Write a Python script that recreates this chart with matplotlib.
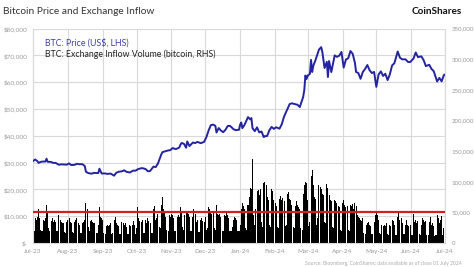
import matplotlib
matplotlib.use("Agg")
import matplotlib.pyplot as plt
import matplotlib.dates as mdates
import numpy as np
import pandas as pd
from matplotlib.ticker import FuncFormatter, FixedLocator

# ---------------- data ----------------
price_dates = [
    "2023-07-01","2023-07-03","2023-07-05","2023-07-06","2023-07-08","2023-07-10","2023-07-12","2023-07-13","2023-07-14","2023-07-17","2023-07-19","2023-07-21","2023-07-24","2023-07-26","2023-07-28","2023-07-31",
    "2023-08-02","2023-08-04","2023-08-07","2023-08-09","2023-08-11","2023-08-14","2023-08-16","2023-08-17","2023-08-19","2023-08-22","2023-08-24","2023-08-28","2023-08-29","2023-08-31",
    "2023-09-03","2023-09-05","2023-09-08","2023-09-11","2023-09-13","2023-09-15","2023-09-18","2023-09-20","2023-09-22","2023-09-25","2023-09-28","2023-09-30",
    "2023-10-02","2023-10-04","2023-10-06","2023-10-09","2023-10-11","2023-10-13","2023-10-16","2023-10-18","2023-10-20","2023-10-23","2023-10-24","2023-10-26","2023-10-29","2023-10-31",
    "2023-11-02","2023-11-05","2023-11-08","2023-11-09","2023-11-10","2023-11-12","2023-11-14","2023-11-15","2023-11-17","2023-11-20","2023-11-22","2023-11-24","2023-11-27","2023-11-30",
    "2023-12-02","2023-12-04","2023-12-06","2023-12-08","2023-12-10","2023-12-11","2023-12-13","2023-12-15","2023-12-17","2023-12-19","2023-12-21","2023-12-23","2023-12-26","2023-12-28","2023-12-31",
    "2024-01-01","2024-01-02","2024-01-03","2024-01-05","2024-01-08","2024-01-10","2024-01-11","2024-01-12","2024-01-14","2024-01-16","2024-01-18","2024-01-20","2024-01-22","2024-01-23","2024-01-25","2024-01-27","2024-01-29","2024-01-31",
    "2024-02-02","2024-02-05","2024-02-07","2024-02-09","2024-02-12","2024-02-14","2024-02-16","2024-02-19","2024-02-21","2024-02-23","2024-02-26","2024-02-27","2024-02-28","2024-02-29",
    "2024-03-01","2024-03-03","2024-03-04","2024-03-05","2024-03-06","2024-03-08","2024-03-11","2024-03-13","2024-03-14","2024-03-16","2024-03-18","2024-03-19","2024-03-20","2024-03-22","2024-03-25","2024-03-27","2024-03-29","2024-03-31",
    "2024-04-02","2024-04-04","2024-04-06","2024-04-08","2024-04-10","2024-04-12","2024-04-13","2024-04-15","2024-04-17","2024-04-19","2024-04-21","2024-04-23","2024-04-25","2024-04-27","2024-04-29",
    "2024-05-01","2024-05-03","2024-05-05","2024-05-07","2024-05-09","2024-05-11","2024-05-13","2024-05-15","2024-05-17","2024-05-20","2024-05-22","2024-05-24","2024-05-27","2024-05-29","2024-05-31",
    "2024-06-03","2024-06-05","2024-06-07","2024-06-10","2024-06-12","2024-06-14","2024-06-17","2024-06-19","2024-06-21","2024-06-24","2024-06-26","2024-06-28","2024-06-30","2024-07-01",
]
price_values = [
    30590,31150,30500,29900,30290,30410,30390,31450,30310,30250,29860,29910,29180,29350,29310,29230,
    29700,29070,29180,29560,29420,29400,28700,26620,26100,25860,26160,26100,27720,25930,
    25970,25780,25900,25120,26220,26570,26760,27130,26570,26300,27020,26970,
    27500,27780,27950,27600,26760,26860,28500,28330,29670,33090,33900,34160,34530,34650,
    35420,35030,35650,36700,37320,37060,35550,37880,36160,37480,37290,37720,37250,37720,
    39460,41980,43990,44170,43720,41240,42890,41930,41360,42260,43670,43720,42520,42100,42270,
    44180,44950,42850,44160,46970,46110,46630,42850,41730,43150,41260,41620,39510,39850,39940,42120,43300,42580,
    43190,42660,44330,47150,49960,51840,52120,51780,51570,50730,54480,57060,62500,61200,
    62440,63130,68330,63800,66110,68300,72130,73080,71400,65300,67610,61930,67910,63780,69990,69460,69890,71290,
    65460,68500,68900,71630,70590,67190,63820,63420,61270,63820,64940,66410,64480,63420,63840,
    58250,62890,64030,62330,63160,60790,62940,66270,67060,71450,69120,68530,68520,67590,67490,
    68800,71080,69360,69650,68240,66010,66490,64960,64100,60280,61600,60320,62680,62850,
]

# daily exchange inflow volume (thousand bitcoin), 2023-07-01 .. 2024-06-30
inflow_jul23 = [24,20,40,38,42,55,40,22,20,38,36,40,62,52,24,20,36,40,35,38,34,20,19,45,38,35,33,32,18,17,34]
inflow_aug23 = [38,40,35,33,18,17,34,38,40,32,30,17,16,32,35,38,66,55,26,20,36,38,35,33,32,17,16,30,58,42,40]
inflow_sep23 = [38,17,15,28,30,28,30,32,15,16,38,43,32,30,28,15,15,34,32,30,33,26,14,15,30,28,30,36,30,15]
inflow_oct23 = [24,58,40,36,34,38,17,17,38,33,40,36,32,16,17,55,60,38,40,48,26,25,62,75,55,50,42,22,20,45,42]
inflow_nov23 = [48,45,40,20,20,42,45,42,58,52,26,22,45,50,52,48,42,20,19,42,56,48,35,38,18,18,38,40,36,35]
inflow_dec23 = [42,22,24,58,55,52,48,50,24,22,62,48,45,48,42,20,20,45,44,50,46,40,20,19,26,38,42,40,38,19,19]
inflow_jan24 = [30,55,65,60,55,24,22,62,75,90,88,137,45,30,55,85,87,78,88,35,26,98,100,95,75,70,30,26,88,85,70]
inflow_feb24 = [65,60,26,24,72,76,70,74,68,28,30,80,83,72,70,62,26,24,60,68,62,58,55,24,22,80,95,100,98]
inflow_mar24 = [70,28,35,110,119,95,75,72,30,40,95,92,88,80,78,35,32,97,90,78,71,68,26,24,70,68,65,60,58,22,20]
inflow_apr24 = [65,70,62,58,60,22,20,62,60,63,55,65,60,45,42,40,38,36,40,17,15,30,32,35,30,28,15,14,34,45]
inflow_may24 = [52,45,38,16,14,30,28,30,28,32,14,13,30,28,38,36,30,13,13,42,50,38,40,32,14,14,30,38,30,28,30]
inflow_jun24 = [13,13,48,35,38,32,36,14,13,30,40,38,34,36,13,13,35,42,30,32,28,12,13,45,40,32,38,44,13,24]

red_line_level = 50000          # horizontal reference on RHS (bitcoin)

left_ticks = [0,10000,20000,30000,40000,50000,60000,70000,80000]
right_ticks = [0,50000,100000,150000,200000,250000,300000,350000]
month_ticks = ["2023-07-01","2023-08-01","2023-09-01","2023-10-01","2023-11-01","2023-12-01",
               "2024-01-01","2024-02-01","2024-03-01","2024-04-01","2024-05-01","2024-06-01","2024-07-01"]
month_labels = ["Jul-23","Aug-23","Sep-23","Oct-23","Nov-23","Dec-23",
                "Jan-24","Feb-24","Mar-24","Apr-24","May-24","Jun-24","Jul-24"]

title_text = "Bitcoin Price and Exchange Inflow"
legend_price = "BTC: Price (US$, LHS)"
legend_inflow = "BTC: Exchange Inflow Volume (bitcoin, RHS)"
source_text = "Source: Bloomberg, CoinShares; data available as of close 01 July 2024"

# ---------------- plot ----------------
plt.rcParams['font.family'] = ['Lato', 'DejaVu Sans']

inflow = np.array(inflow_jul23 + inflow_aug23 + inflow_sep23 + inflow_oct23 + inflow_nov23 +
                  inflow_dec23 + inflow_jan24 + inflow_feb24 + inflow_mar24 + inflow_apr24 +
                  inflow_may24 + inflow_jun24) * 1000.0
inflow_dates = pd.date_range("2023-07-01", periods=len(inflow), freq="D")

fig = plt.figure(figsize=(4.74, 2.67), dpi=100)
ax = fig.add_axes([33/474, 1-243/267, (445-33)/474, (243-28.6)/267])
ax2 = ax.twinx()

grid_c = "#d9d9d9"
ax.set_ylim(0, 80000)
ax2.set_ylim(0, 350000)
xmin = mdates.date2num(pd.Timestamp("2023-07-01"))
xmax = mdates.date2num(pd.Timestamp("2024-07-01"))
ax.set_xlim(xmin, xmax)

ax.yaxis.set_major_locator(FixedLocator(left_ticks))
ax2.yaxis.set_major_locator(FixedLocator(right_ticks))
ax.xaxis.set_major_locator(FixedLocator([mdates.date2num(pd.Timestamp(d)) for d in month_ticks]))
ax.set_xticklabels(month_labels)
ax.grid(True, color=grid_c, lw=0.8)
ax.set_axisbelow(True)

ax.yaxis.set_major_formatter(FuncFormatter(lambda v, p: "$-" if v == 0 else f"${v:,.0f}"))
ax2.yaxis.set_major_formatter(FuncFormatter(lambda v, p: "0" if v == 0 else f"{v:,.0f}"))

tick_c = "#9a9a9a"
ax.tick_params(axis="both", length=0, labelsize=4.6, colors=tick_c, pad=4)
ax2.tick_params(axis="y", length=0, labelsize=4.4, colors=tick_c, pad=5)

for a in (ax, ax2):
    for s in a.spines.values():
        s.set_color(grid_c)
        s.set_linewidth(0.8)
    a.spines["top"].set_visible(False)

bar_x = mdates.date2num(inflow_dates)
ax2.bar(bar_x, inflow, width=0.9, color="black", linewidth=0, align="center", zorder=2)
ax2.axhline(red_line_level, color="#d21f1f", lw=1.6, zorder=3)

pd_num = mdates.date2num(pd.to_datetime(price_dates))
ax2.plot(pd_num, np.array(price_values) * 350000 / 80000, color="#2424a0", lw=1.4, zorder=4)

ax2.text(0.03, 0.955, legend_price, transform=ax2.transAxes, fontsize=6.3, color="#3d3da8",
         va="top", ha="left", zorder=5)
ax2.text(0.03, 0.905, legend_inflow, transform=ax2.transAxes, fontsize=6.3, color="#222222",
         va="top", ha="left", zorder=5)

fig.text(3/474, 1-11/267, title_text, fontsize=7.3, color="#333333", va="center", ha="left")
fig.text(462/474, 1-11/267, "CoinShares", fontsize=7.2, color="#111111", va="center", ha="right",
         fontweight="bold")
fig.text(462/474, 1-263/267, source_text, fontsize=3.6, color="#aaaaaa", va="center", ha="right")

fig.savefig("out.png", dpi=100)
